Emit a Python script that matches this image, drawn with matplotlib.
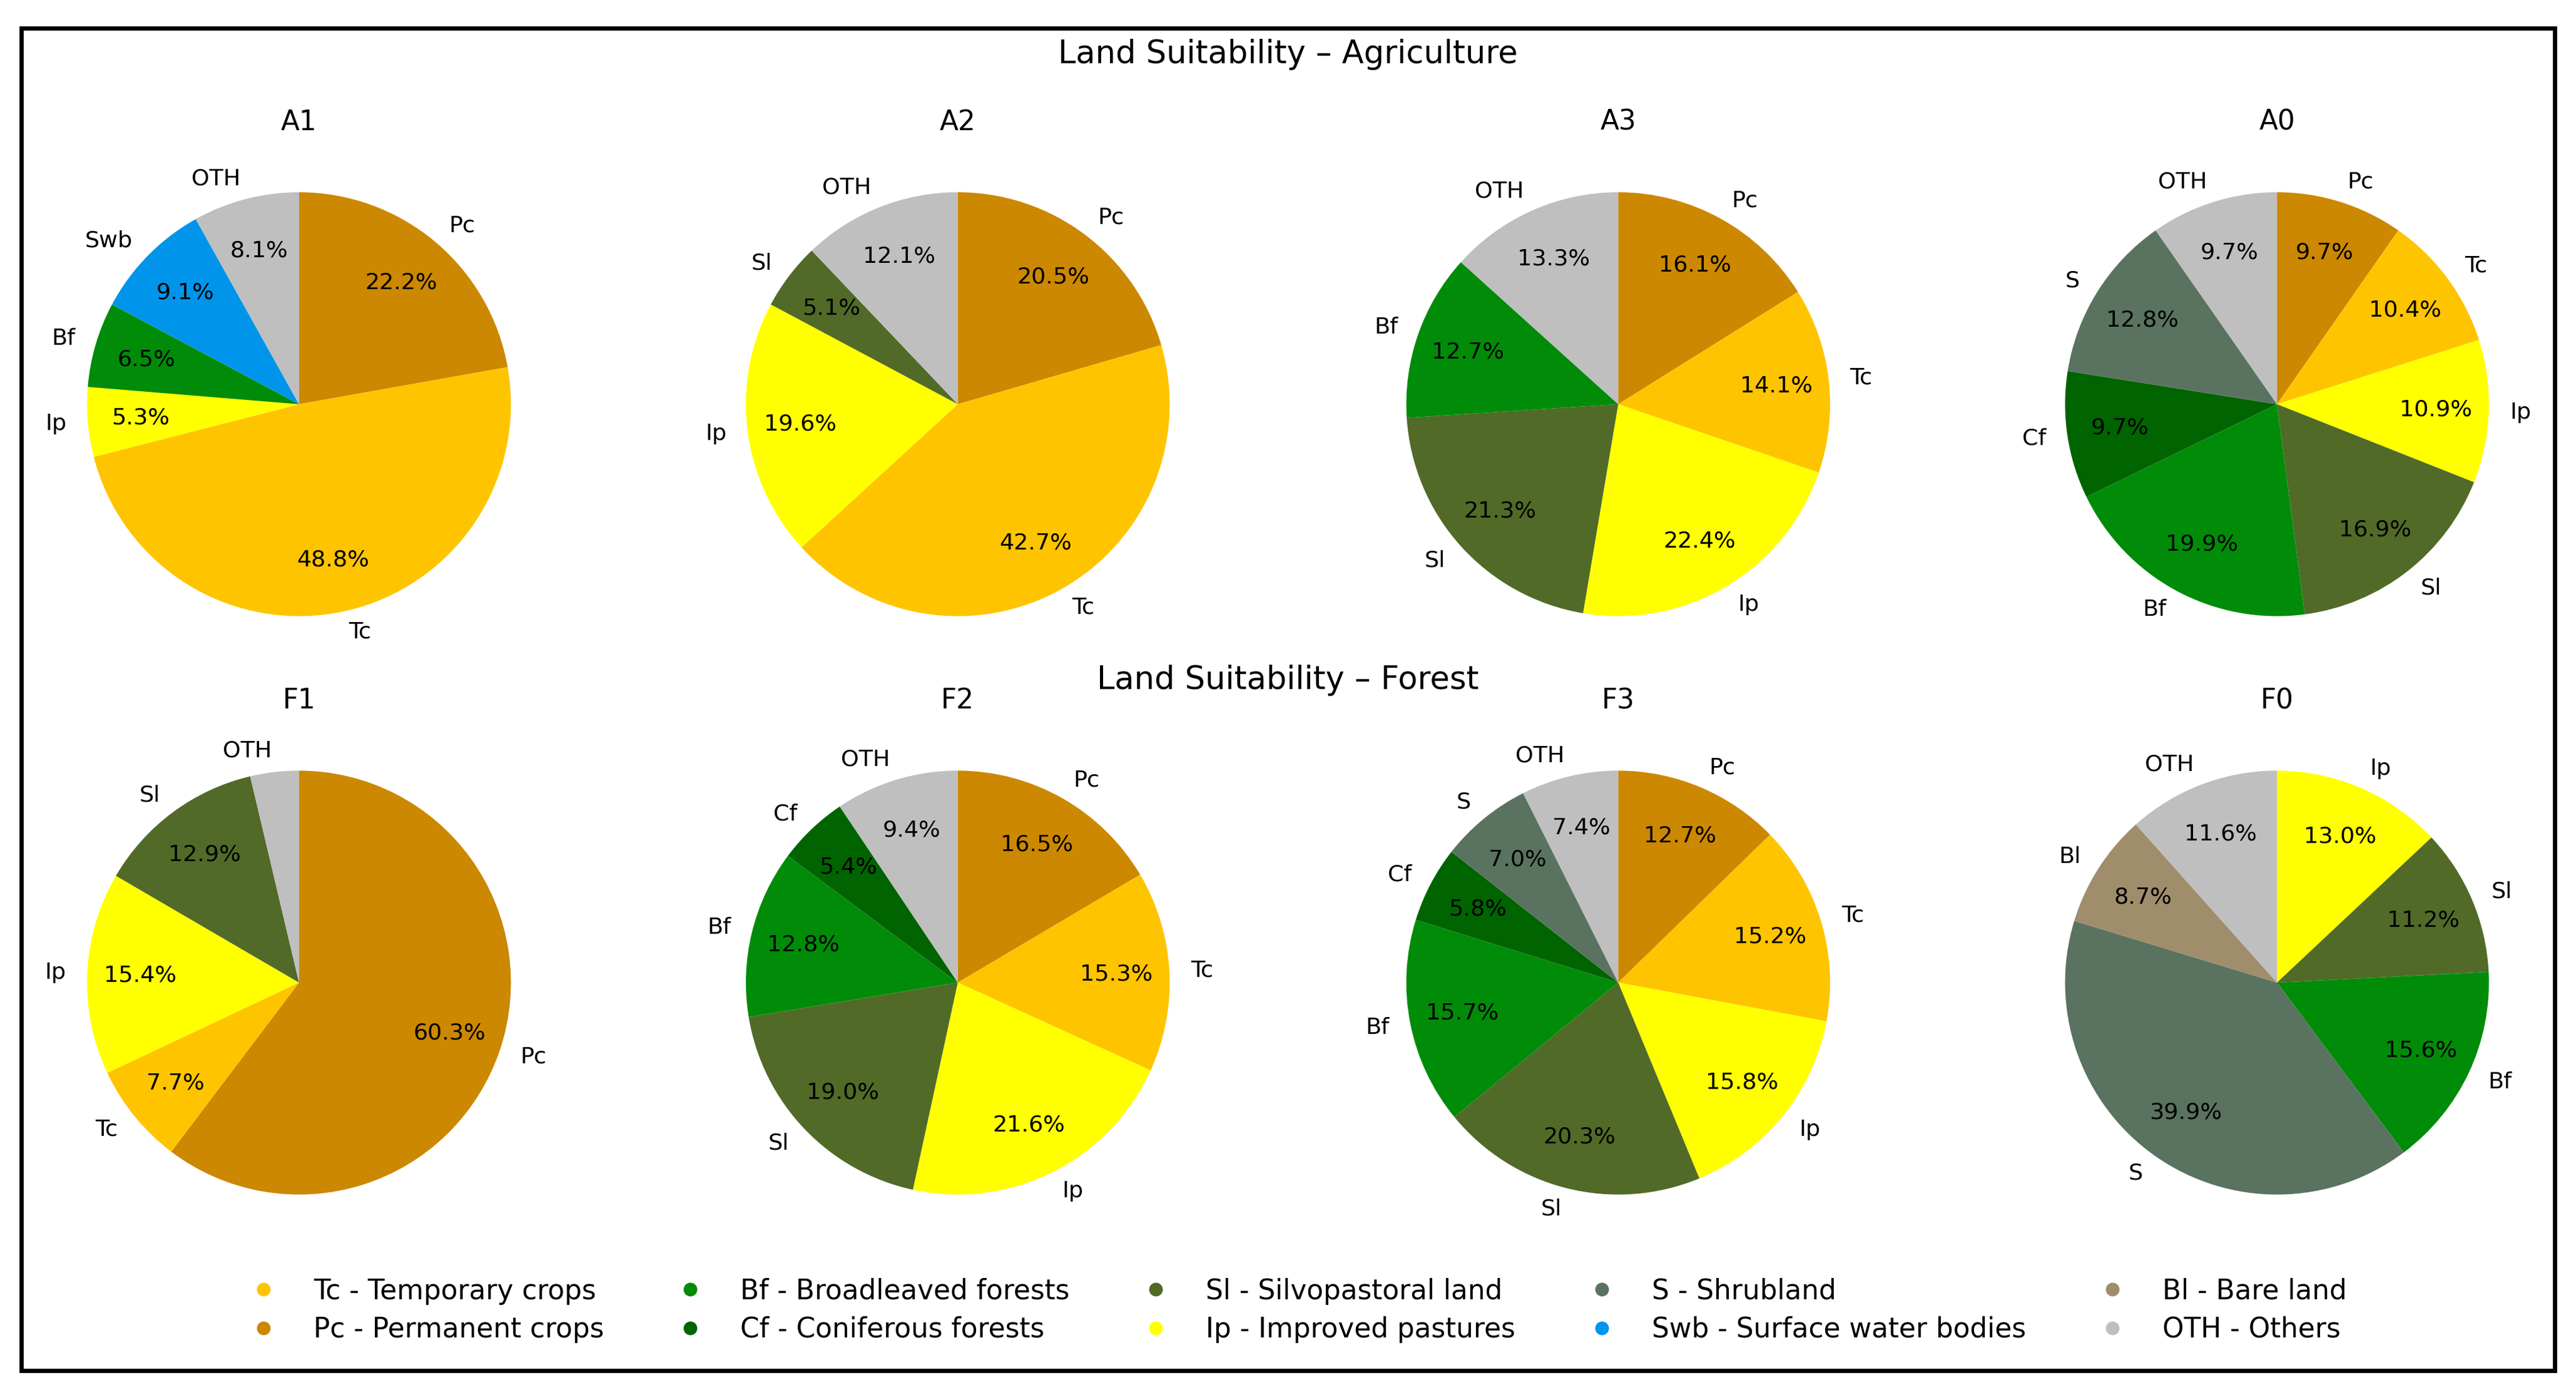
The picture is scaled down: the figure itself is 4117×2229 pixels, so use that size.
import numpy as np
import matplotlib
matplotlib.use('Agg')
from matplotlib import pyplot as plt
from matplotlib.lines import Line2D
from matplotlib.patches import Rectangle

# class colours
colors = {
    'Tc': '#ffc400',
    'Pc': '#cc8800',
    'Ip': '#ffff00',
    'Bf': '#008c08',
    'Cf': '#006400',
    'Sl': '#516a28',
    'S': '#5a7360',
    'Swb': '#0095eb',
    'Bl': '#a08d6c',
    'OTH': '#bfbfbf',
}
legend_names = {
    'Tc': 'Tc - Temporary crops',
    'Pc': 'Pc - Permanent crops',
    'Bf': 'Bf - Broadleaved forests',
    'Cf': 'Cf - Coniferous forests',
    'Sl': 'Sl - Silvopastoral land',
    'Ip': 'Ip - Improved pastures',
    'S': 'S - Shrubland',
    'Swb': 'Swb - Surface water bodies',
    'Bl': 'Bl - Bare land',
    'OTH': 'OTH - Others',
}
legend_order = ['Tc', 'Pc', 'Bf', 'Cf', 'Sl', 'Ip', 'S', 'Swb', 'Bl', 'OTH']

# agriculture suitability classes
A1_labels = ['Pc', 'Tc', 'Ip', 'Bf', 'Swb', 'OTH']
A1_values = [22.2, 48.8, 5.3, 6.5, 9.1, 8.1]
A2_labels = ['Pc', 'Tc', 'Ip', 'Sl', 'OTH']
A2_values = [20.5, 42.7, 19.6, 5.1, 12.1]
A3_labels = ['Pc', 'Tc', 'Ip', 'Sl', 'Bf', 'OTH']
A3_values = [16.1, 14.1, 22.4, 21.3, 12.7, 13.3]
A0_labels = ['Pc', 'Tc', 'Ip', 'Sl', 'Bf', 'Cf', 'S', 'OTH']
A0_values = [9.7, 10.4, 10.9, 16.9, 19.9, 9.7, 12.8, 9.7]

# forest suitability classes
F1_labels = ['Pc', 'Tc', 'Ip', 'Sl', 'OTH']
F1_values = [60.3, 7.7, 15.4, 12.9, 3.7]
F2_labels = ['Pc', 'Tc', 'Ip', 'Sl', 'Bf', 'Cf', 'OTH']
F2_values = [16.5, 15.3, 21.6, 19.0, 12.8, 5.4, 9.4]
F3_labels = ['Pc', 'Tc', 'Ip', 'Sl', 'Bf', 'Cf', 'S', 'OTH']
F3_values = [12.7, 15.2, 15.8, 20.3, 15.7, 5.8, 7.0, 7.4]
F0_labels = ['Ip', 'Sl', 'Bf', 'S', 'Bl', 'OTH']
F0_values = [13.0, 11.2, 15.6, 39.9, 8.7, 11.6]

rows = [
    [('A1', A1_labels, A1_values), ('A2', A2_labels, A2_values),
     ('A3', A3_labels, A3_values), ('A0', A0_labels, A0_values)],
    [('F1', F1_labels, F1_values), ('F2', F2_labels, F2_values),
     ('F3', F3_labels, F3_values), ('F0', F0_labels, F0_values)],
]


def pct_fmt(p):
    # small slices get no percentage
    return '%.1f%%' % p if p >= 5 else ''


fig = plt.figure(figsize=(4117 / 262.5, 2229 / 262.5), dpi=262.5)

W, H = 1568.0, 849.0
cxs = [182, 583, 985, 1386]
cys = [246, 598]
side = 322.5

for r, row in enumerate(rows):
    for c, (name, labels, values) in enumerate(row):
        left = (cxs[c] - side / 2) / W
        bottom = 1 - (cys[r] + side / 2) / H
        ax = fig.add_axes([left, bottom, side / W, side / H])
        ax.pie(values, labels=labels,
               colors=[colors[l] for l in labels],
               startangle=90, counterclock=False,
               autopct=pct_fmt, pctdistance=0.75,
               textprops={'fontsize': 10})
        ax.set_title(name, fontsize=12, pad=4)

fig.text(0.5, 1 - 33 / H, 'Land Suitability \u2013 Agriculture', ha='center', va='center', fontsize=14)
fig.text(0.5, 1 - 414 / H, 'Land Suitability \u2013 Forest', ha='center', va='center', fontsize=14)

handles = [Line2D([], [], marker='o', linestyle='', color=colors[k], markersize=5)
           for k in legend_order]
fig.legend(handles, [legend_names[k] for k in legend_order], ncol=5,
           loc='center', bbox_to_anchor=(786 / W, 1 - 797.5 / H), frameon=False,
           fontsize=12, columnspacing=2.15, handletextpad=0.83, labelspacing=0.42)

fig.add_artist(Rectangle((13.1 / W, 1 - 834 / H), (1555.2 - 13.1) / W, (834 - 17.3) / H,
                         transform=fig.transFigure, fill=False, edgecolor='black', linewidth=1.85))

fig.savefig('out.png', dpi=262.5)
